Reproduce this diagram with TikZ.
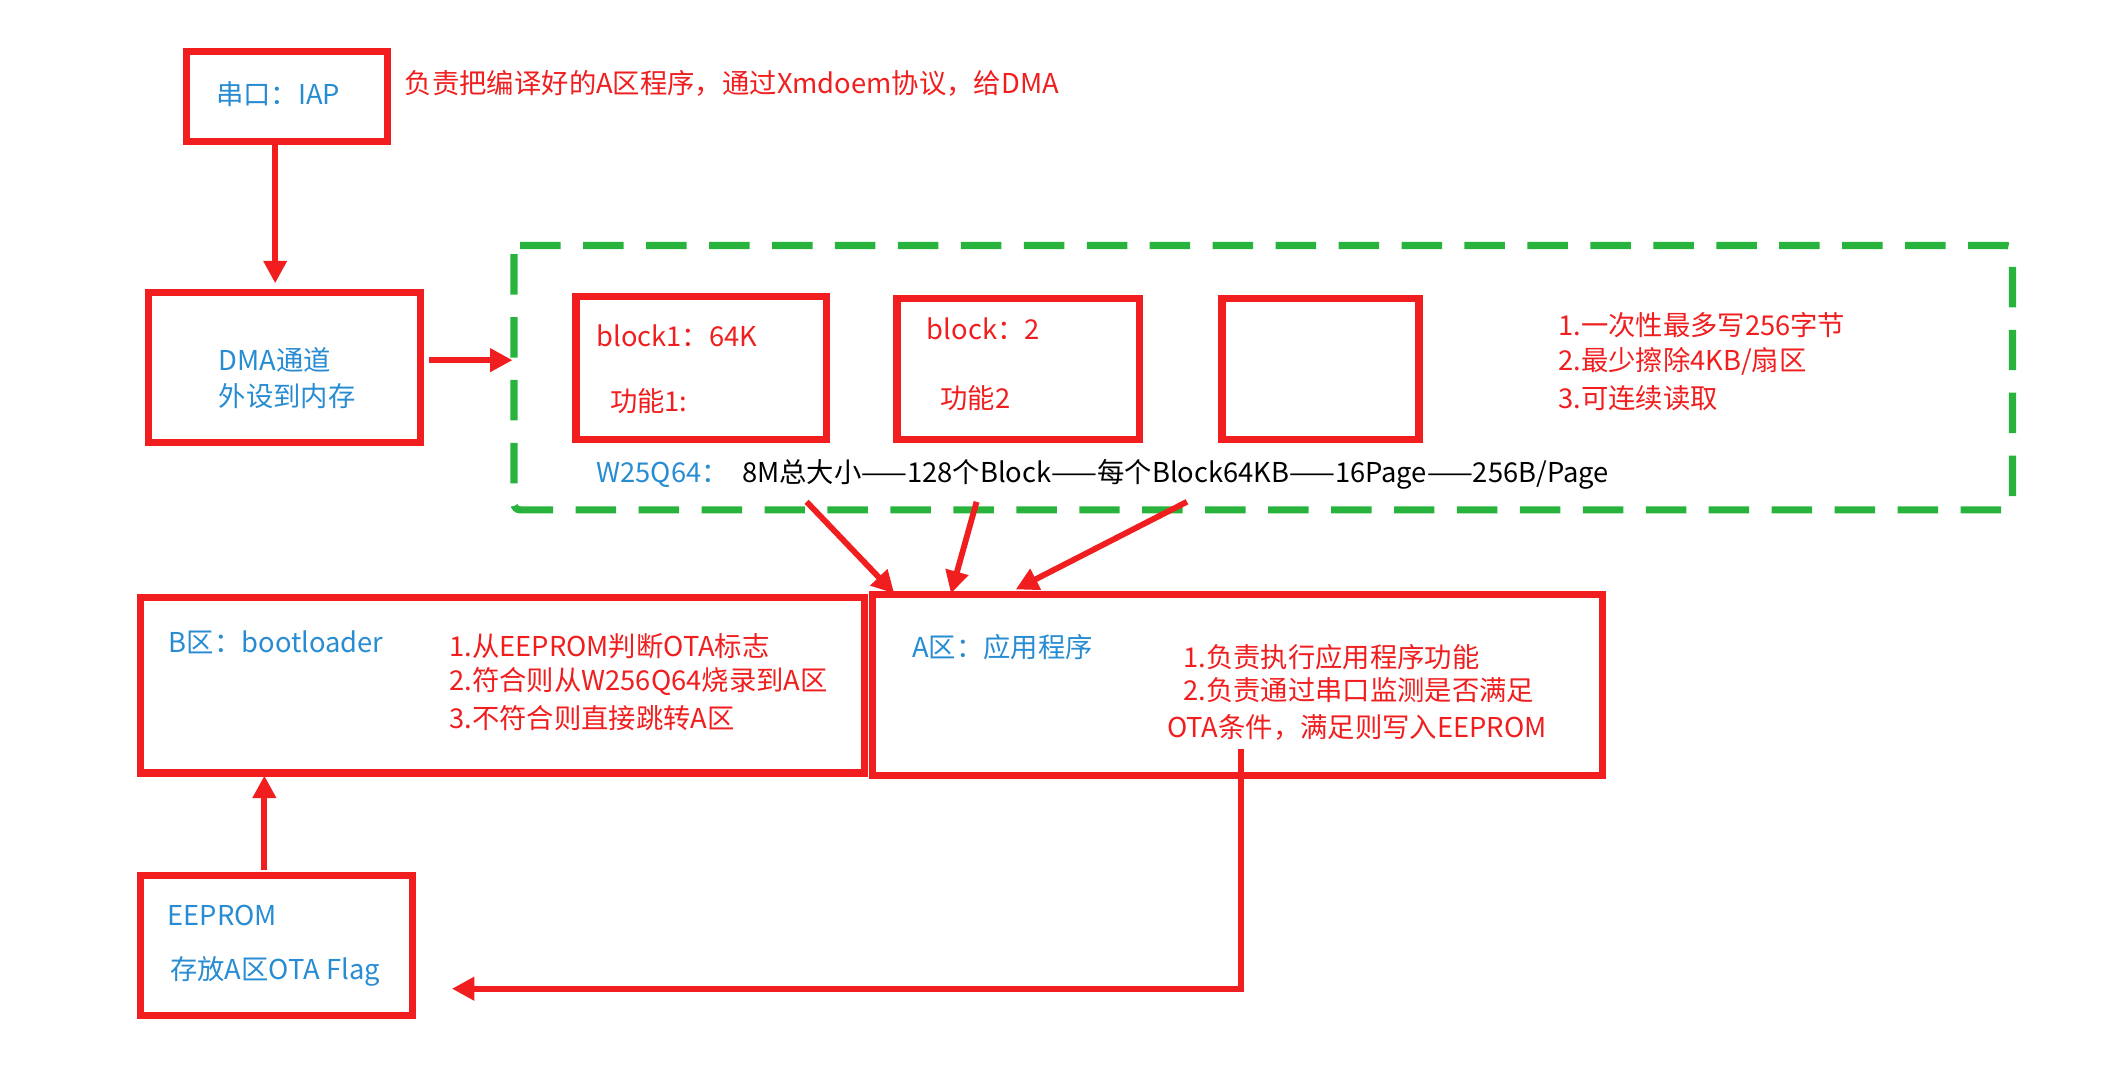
\documentclass[tikz,border=0pt]{standalone}
\usepackage{fontspec}
\setmainfont{Noto Sans CJK SC}
\usetikzlibrary{arrows.meta}
\definecolor{rojo}{RGB}{240,30,30}
\definecolor{azul}{RGB}{40,140,210}
\definecolor{verde}{RGB}{40,180,60}
\tikzstyle{caja}=[draw=rojo, line width=1.6mm]
\tikzstyle{flecha}=[draw=rojo, line width=1.3mm, -{Triangle[length=5mm,width=5mm]}]
\tikzstyle{azultxt}=[text=azul, anchor=west, font=\fontsize{17.3}{20}\selectfont, inner sep=0pt]
\tikzstyle{rojotxt}=[text=rojo, anchor=west, font=\fontsize{17.3}{20}\selectfont, inner sep=0pt]
\tikzstyle{negrotxt}=[text=black, anchor=west, font=\fontsize{17.3}{20}\selectfont, inner sep=0pt]
\begin{document}
\begin{tikzpicture}[x=0.03cm, y=-0.03cm]
	\useasboundingbox (0,0) rectangle (1568,800);
	% cajas
	\draw[caja] (138,38) rectangle (287,105);
	\coordinate (iapb) at (204,105);
	\node[azultxt] (iap) at (160,70) {串口：IAP};
	\node[rojotxt] (nota1) at (300,62) {负责把编译好的A区程序，通过Xmdoem协议，给DMA};
	\draw[caja] (110,217) rectangle (312,328);
	\coordinate (dmat) at (204,210);
	\node[azultxt] (dma1) at (162,267) {DMA通道};
	\node[azultxt] (dma2) at (162,294) {外设到内存};
	\draw[flecha] (iapb) -- (dmat);
	\coordinate (dmad) at (318,267);
	\coordinate (flash) at (380,267);
	\draw[flecha] (dmad) -- (flash);
	% W25Q64
	\draw[verde, line width=1.6mm, dash pattern=on 9mm off 5mm, rounded corners=4pt] (381,182) -- (1492,182) -- (1492,378) -- (381,378) -- cycle;
	\draw[caja] (427,220) rectangle (613,326);
	\node[rojotxt] (b1) at (442,249) {block1：64K};
	\node[rojotxt] (f1) at (452,297) {功能1:};
	\draw[caja] (665,221) rectangle (845,326);
	\node[rojotxt] (b2) at (687,244) {block：2};
	\node[rojotxt] (f2) at (697,295) {功能2};
	\draw[caja] (906,221) rectangle (1052,326);
	\node[rojotxt] (n1) at (1155,241) {1.一次性最多写256字节};
	\node[rojotxt] (n2) at (1155,268) {2.最少擦除4KB/扇区};
	\node[rojotxt] (n3) at (1155,295) {3.可连续读取};
	\node[azultxt] (w25) at (442,352) {W25Q64：};
	\node[negrotxt] (tam) at (550,352) {8M总大小——128个Block——每个Block64KB——16Page——256B/Page};
	% B y A
	\draw[caja] (104,443) rectangle (641,573);
	\node[azultxt] (bz) at (125,476) {B区：bootloader};
	\node[rojotxt] (bn1) at (333,479) {1.从EEPROM判断OTA标志};
	\node[rojotxt] (bn2) at (333,505) {2.符合则从W256Q64烧录到A区};
	\node[rojotxt] (bn3) at (333,532) {3.不符合则直接跳转A区};
	\draw[caja] (647,441) rectangle (1188,575);
	\node[azultxt] (az) at (676,480) {A区：应用程序};
	\node[rojotxt] (an1) at (877,487) {1.负责执行应用程序功能};
	\node[rojotxt] (an2) at (877,512) {2.负责通过串口监测是否满足};
	\node[rojotxt] (an3) at (865,539) {OTA条件，满足则写入EEPROM};
	\coordinate (s1) at (598,372); \coordinate (t1) at (663,440);
	\coordinate (s2) at (724,372); \coordinate (t2) at (705,440);
	\coordinate (s3) at (880,372); \coordinate (t3) at (753,437);
	\draw[flecha] (s1) -- (t1);
	\draw[flecha] (s2) -- (t2);
	\draw[flecha] (s3) -- (t3);
	% EEPROM
	\draw[caja] (104,649) rectangle (306,753);
	\node[azultxt] (ee) at (124,679) {EEPROM};
	\node[azultxt] (flag) at (126,720) {存放A区OTA Flag};
	\coordinate (eet) at (196,645); \coordinate (bb) at (196,575);
	\draw[flecha] (eet) -- (bb);
	\coordinate (aout) at (920,555); \coordinate (ein) at (335,733);
	\draw[flecha] (aout) |- (ein);
\end{tikzpicture}
\end{document}
